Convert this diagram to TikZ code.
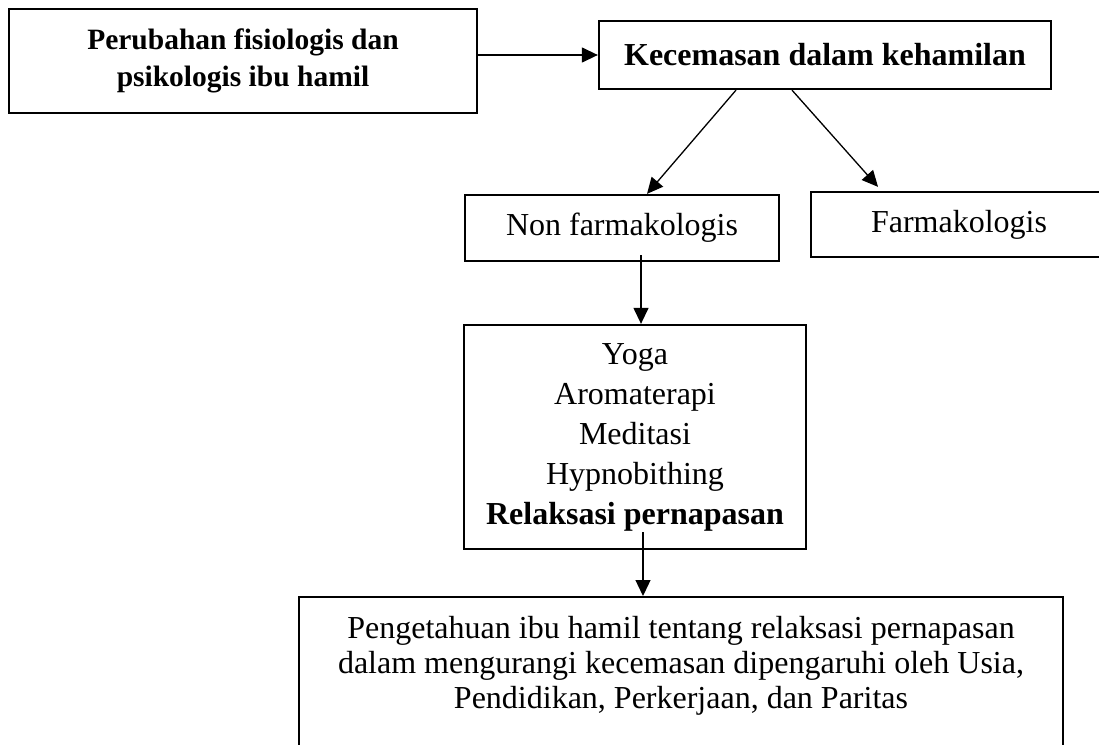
\documentclass[tikz,border=0pt]{standalone}
\usepackage{fontspec}
\setmainfont{Liberation Serif}
\usetikzlibrary{arrows.meta}
\begin{document}
\begin{tikzpicture}[x=1pt,y=-1pt,
  box/.style={draw, line width=2.3pt, inner sep=0pt, align=center},
  arr/.style={-{Triangle[length=16pt,width=15pt]}, line width=1.3pt},
  reg/.style={font=\fontsize{32}{40}\selectfont},
  bld/.style={font=\bfseries\fontsize{29.5}{37}\selectfont}]
\useasboundingbox (0,0) rectangle (1099,744);
\clip (0,0) rectangle (1099,744);
\node[box, minimum width=468pt, minimum height=104pt, bld] (b1) at (243,61) {Perubahan fisiologis dan\\psikologis ibu hamil};
\node[box, minimum width=452pt, minimum height=68pt, font=\bfseries\fontsize{32}{38}\selectfont] (kc) at (825,55) {Kecemasan dalam kehamilan};
\node[box, minimum width=314pt, minimum height=66pt, reg] (nf) at (622,228) {Non farmakologis};
\node[box, minimum width=296pt, minimum height=65pt, reg] (fa) at (959,224.5) {Farmakologis};
\node[box, minimum width=342pt, minimum height=224pt, reg] (ym) at (635,437) {Yoga\\Aromaterapi\\Meditasi\\Hypnobithing\\\textbf{Relaksasi pernapasan}};
\node[box, minimum width=764pt, minimum height=170pt, anchor=north] (pk) at (681,596) {};
\node[font=\fontsize{32}{35}\selectfont, align=center] (pkt) at (681,666) {Pengetahuan ibu hamil tentang relaksasi pernapasan\\dalam mengurangi kecemasan dipengaruhi oleh Usia,\\Pendidikan, Perkerjaan, dan Paritas};
\draw[arr] (b1.east |- kc.west) -- (kc.west);
\draw[arr] ([xshift=-89pt]kc.south) -- ([xshift=25pt]nf.north);
\draw[arr] ([xshift=-33pt]kc.south) -- ([xshift=-81pt,yshift=4pt]fa.north);
\draw[arr] ([xshift=19pt,yshift=7pt]nf.south) -- ([xshift=6pt]ym.north);
\draw[arr] ([xshift=8pt,yshift=18pt]ym.south) -- ([xshift=-38pt]pk.north);
\end{tikzpicture}
\end{document}
